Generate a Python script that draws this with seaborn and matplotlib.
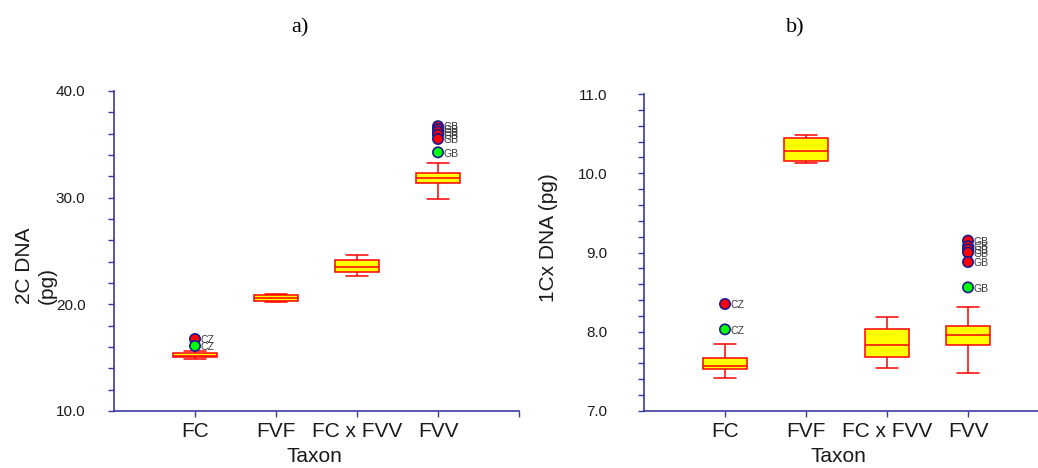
import numpy as np
import pandas as pd
import matplotlib
matplotlib.use("Agg")
import matplotlib.pyplot as plt
import seaborn as sns

# ---------------- data ----------------
categories = ["FC", "FVF", "FC x FVV", "FVV"]

# box summaries per taxon: [lower whisker, Q1, median, Q3, upper whisker]
a_FC = [14.85, 15.05, 15.2, 15.4, 15.6]
a_FVF = [20.2, 20.35, 20.55, 20.85, 21.0]
a_FCxFVV = [22.7, 23.05, 23.5, 24.2, 24.6]
a_FVV = [29.9, 31.4, 31.85, 32.3, 33.25]

b_FC = [7.42, 7.53, 7.57, 7.67, 7.84]
b_FVF = [10.13, 10.16, 10.28, 10.44, 10.48]
b_FCxFVV = [7.54, 7.68, 7.83, 8.04, 8.19]
b_FVV = [7.48, 7.83, 7.96, 8.07, 8.31]

# outliers: taxon, value, colour, label
a_out_taxon = ["FC", "FC", "FVV", "FVV", "FVV", "FVV", "FVV", "FVV"]
a_out_value = [16.75, 16.1, 36.7, 36.45, 36.2, 35.9, 35.5, 34.25]
a_out_color = ["red", "lime", "red", "red", "red", "red", "red", "lime"]
a_out_label = ["CZ", "CZ", "GB", "GB", "GB", "GB", "GB", "GB"]

b_out_taxon = ["FC", "FC", "FVV", "FVV", "FVV", "FVV", "FVV", "FVV"]
b_out_value = [8.35, 8.03, 9.15, 9.08, 9.04, 9.0, 8.88, 8.56]
b_out_color = ["red", "lime", "red", "red", "red", "red", "red", "lime"]
b_out_label = ["CZ", "CZ", "GB", "GB", "GB", "GB", "GB", "GB"]

# ---------------- style ----------------
sns.set_theme(style="white")
plt.rcParams["font.family"] = ["Liberation Sans", "DejaVu Sans"]

AXC = "#3a3aa0"
TXT = "#1a1a1a"

fig = plt.figure(figsize=(10.38, 4.68), dpi=100)
W, H = 1038.0, 468.0


def make_df(boxes):
    rows = []
    for cat, vals in zip(categories, boxes):
        for v in vals:
            rows.append({"Taxon": cat, "value": v})
    return pd.DataFrame(rows)


def draw_panel(ax, boxes, out_taxon, out_value, out_color, out_label,
               ylim, major, minor, ypad):
    df = make_df(boxes)
    sns.boxplot(data=df, x="Taxon", y="value", order=categories, ax=ax,
                whis=(0, 100), width=0.54, color="#ffff00", saturation=1,
                linecolor="#ff0000", linewidth=1.1, showfliers=False)
    xpos = [categories.index(t) for t in out_taxon]
    sns.scatterplot(x=xpos, y=out_value, hue=list(range(len(out_value))),
                    palette=out_color, s=55, edgecolor="#1a1a8c",
                    linewidth=1.2, ax=ax, legend=False, zorder=5)
    for x, v, lab in zip(xpos, out_value, out_label):
        ax.text(x + 0.07, v - (ylim[1] - ylim[0]) * 0.004, lab, fontsize=7.5,
                color="#3a3a3a", ha="left", va="center", zorder=6)
    ax.set_xlim(-1, 4)
    ax.set_ylim(*ylim)
    ax.set_xticks([0, 1, 2, 3, 4])
    ax.set_xticklabels(categories + [""])
    ax.set_yticks(np.arange(ylim[0], ylim[1] + 1e-9, major))
    ax.set_yticklabels([f"{t:.1f}" for t in np.arange(ylim[0], ylim[1] + 1e-9, major)])
    ax.set_yticks(np.arange(ylim[0], ylim[1] + 1e-9, minor), minor=True)
    ax.set_xlabel("")
    ax.set_ylabel("")
    for s in ["top", "right"]:
        ax.spines[s].set_visible(False)
    for s in ["left", "bottom"]:
        ax.spines[s].set_color(AXC)
        ax.spines[s].set_linewidth(1.2)
    ax.tick_params(axis="y", which="both", direction="out", length=4,
                   width=1.0, color=AXC, left=True, labelsize=11,
                   labelcolor=TXT, pad=ypad)
    ax.tick_params(axis="x", which="both", direction="out", length=4,
                   width=1.0, color=AXC, bottom=True, labelsize=15,
                   labelcolor=TXT, pad=4)
    ax.grid(False)


ax1 = fig.add_axes([114 / W, 1 - 411 / H, 405 / W, 320 / H])
draw_panel(ax1, [a_FC, a_FVF, a_FCxFVV, a_FVV], a_out_taxon, a_out_value,
           a_out_color, a_out_label, (10, 40), 10, 2, 16.5)

ax2 = fig.add_axes([644 / W, 1 - 411 / H, 405 / W, 317 / H])
draw_panel(ax2, [b_FC, b_FVF, b_FCxFVV, b_FVV], b_out_taxon, b_out_value,
           b_out_color, b_out_label, (7, 11), 1, 0.2, 22.5)

# titles
fig.text(300 / W, 1 - 28 / H, "a)", family=["Liberation Serif", "DejaVu Serif"],
         fontsize=16, ha="center", va="center", color="black")
fig.text(795 / W, 1 - 28 / H, "b)", family=["Liberation Serif", "DejaVu Serif"],
         fontsize=16, ha="center", va="center", color="black")

# axis titles
fig.text(36 / W, 1 - 266 / H, "2C DNA\n(pg)", rotation=90, fontsize=15,
         ha="center", va="center", multialignment="left", color=TXT)
fig.text(548 / W, 1 - 238 / H, "1Cx DNA (pg)", rotation=90, fontsize=15,
         ha="center", va="center", color=TXT)
fig.text(314 / W, 1 - 457 / H, "Taxon", fontsize=15, ha="center", va="center",
         color=TXT)
fig.text(838 / W, 1 - 457 / H, "Taxon", fontsize=15, ha="center", va="center",
         color=TXT)

fig.savefig("out.png", dpi=100)
